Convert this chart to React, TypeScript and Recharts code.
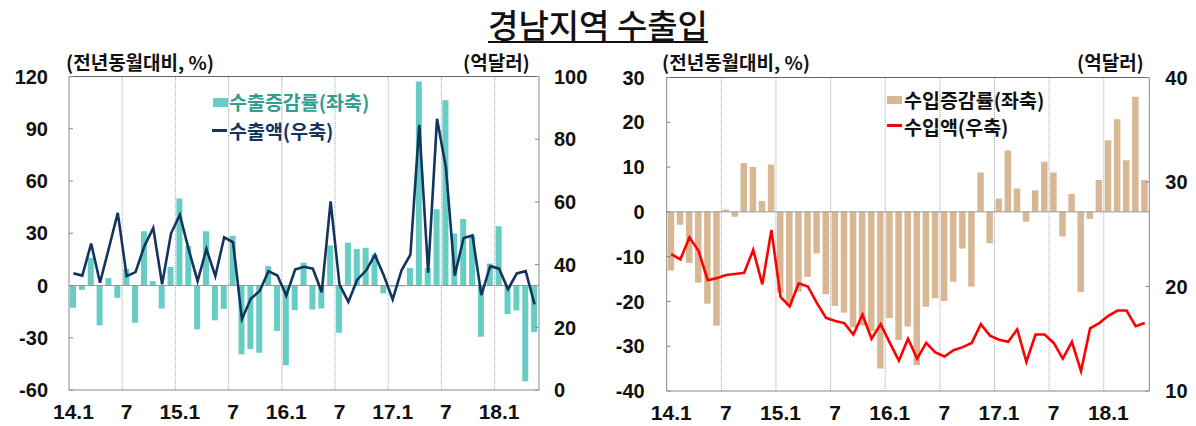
import React from "react";
import { ComposedChart, Bar, Line, XAxis, YAxis, ReferenceLine } from "recharts";

const months = [
  "14.1", "14.2", "14.3", "14.4", "14.5", "14.6", "14.7", "14.8", "14.9", "14.10", "14.11", "14.12",
  "15.1", "15.2", "15.3", "15.4", "15.5", "15.6", "15.7", "15.8", "15.9", "15.10", "15.11", "15.12",
  "16.1", "16.2", "16.3", "16.4", "16.5", "16.6", "16.7", "16.8", "16.9", "16.10", "16.11", "16.12",
  "17.1", "17.2", "17.3", "17.4", "17.5", "17.6", "17.7", "17.8", "17.9", "17.10", "17.11", "17.12",
  "18.1", "18.2", "18.3", "18.4", "18.5",
];

// 수출증감률 (좌축, %)
const exportRate = [
  -12.8, -2.5, 15.9, -22.9, 4.2, -7.1, 9.6, -21.4, 31.1, 2.5, -13.2, 10.7,
  49.9, 22.7, -25.2, 31.1, -20, -13.4, 28.6, -39.5, -36.5, -38.6, 11.1, -26.1,
  -45.8, -14.2, 13.1, -13.8, -13.2, 22.9, -27.1, 24.5, 21, 21.7, 17.9, -4.5,
  -0.6, -0.5, 10.1, 117.1, 10, 43.8, 106.3, 29.8, 38.2, 28.7, -29.4, 12.6,
  34, -16.4, -14.3, -55, -26.8,
];

// 수출액 (우축, 억달러)
const exportAmt = [
  37.2, 36.5, 46.7, 34.2, 45.3, 56.5, 36.3, 37.6, 45.9, 51.7, 33.7, 49.9,
  55.9, 44.8, 34.7, 45, 36.3, 48.7, 47.1, 22.6, 29.1, 31.6, 37.9, 36.5,
  30.1, 38.4, 39.3, 38.7, 31.2, 60.2, 33.7, 28.1, 35.2, 38.1, 43.1, 36.5,
  28.9, 38.2, 43.2, 84.6, 37.4, 86.5, 71, 36.5, 48.5, 49.3, 30.3, 39.5,
  38.7, 32.1, 37.2, 37.9, 27.3,
];

// 수입증감률 (좌축, %)
const importRate = [
  -13.1, -2.9, -11.4, -15.8, -20.5, -25.4, 0.5, -1.1, 10.9, 10, 2.4, 10.6,
  -18, -21, -17.8, -14.5, -9.3, -18.4, -21, -22.5, -25.8, -25.4, -26.6, -35,
  -23.7, -28.6, -25.6, -34.2, -21.2, -19.3, -19.9, -15.6, -8.2, -16.7, 8.8, -7,
  3, 13.7, 5.2, -2.2, 4.8, 11.2, 8.8, -5.5, 4, -17.9, -1.6, 7.1,
  16, 20.7, 11.5, 25.7, 7.1,
];

// 수입액 (우축, 억달러)
const importAmt = [
  23.1, 22.6, 24.7, 23.4, 20.6, 20.8, 21.1, 21.2, 21.3, 23.5, 20.2, 25.4,
  19, 18.1, 20.3, 20, 18.4, 17, 16.7, 16.5, 15.4, 17.3, 15, 16.4,
  14.6, 12.9, 15, 13.1, 14.6, 13.7, 13.3, 13.9, 14.2, 14.6, 16.4, 15.3,
  14.9, 14.7, 15.9, 12.8, 15.4, 15.4, 14.6, 13.1, 14.7, 11.9, 16, 16.5,
  17.2, 17.7, 17.7, 16.2, 16.5,
];

const gridMonths = ["14.7", "15.1", "15.7", "16.1", "16.7", "17.1", "17.7", "18.1"];

const exportTicksL = [-60, -30, 0, 30, 60, 90, 120];
const exportTicksR = [0, 20, 40, 60, 80, 100];
const importTicksL = [-40, -30, -20, -10, 0, 10, 20, 30];
const importTicksR = [10, 20, 30, 40];

const exportData = months.map((m, i) => ({ m, rate: exportRate[i], amt: exportAmt[i] }));
const importData = months.map((m, i) => ({ m, rate: importRate[i], amt: importAmt[i] }));

const numFont = "'Liberation Sans', Arial, sans-serif";
const krFont = "'Noto Sans CJK KR', 'Noto Sans', sans-serif";

const fmtMonth = (v: string) => {
  const [y, mo] = v.split(".");
  return mo === "1" ? `${y}.1` : mo;
};

const YTick = (props: any) => {
  const { x, y, payload, side, gap } = props;
  const axisX = side === "left" ? x + gap : x - gap;
  const inward = side === "left" ? 4 : -4;
  return (
    <g>
      <line x1={axisX} x2={axisX + inward} y1={y} y2={y} stroke="#888" />
      <text
        x={x}
        y={y}
        dy="0.36em"
        textAnchor={side === "left" ? "end" : "start"}
        fontFamily={numFont}
        fontWeight="bold"
        fontSize={20}
        fill="#111"
      >
        {payload.value}
      </text>
    </g>
  );
};

const xTickStyle = { fontSize: 21, fontWeight: "bold", fill: "#111", fontFamily: numFont };

const unitStyle: React.CSSProperties = {
  position: "absolute",
  fontFamily: krFont,
  fontWeight: 700,
  fontSize: 19,
  lineHeight: "24px",
  color: "#111",
  whiteSpace: "nowrap",
};

const legendText: React.CSSProperties = {
  position: "absolute",
  fontFamily: krFont,
  fontWeight: 700,
  fontSize: 19.5,
  lineHeight: "24px",
  whiteSpace: "nowrap",
};

interface PanelProps {
  data: { m: string; rate: number; amt: number }[];
  width: number;
  margin: { top: number; right: number; bottom: number; left: number };
  leftWidth: number;
  rightWidth: number;
  leftDomain: [number, number];
  rightDomain: [number, number];
  leftTicks: number[];
  rightTicks: number[];
  leftGap: number;
  rightGap: number;
  barColor: string;
  barSize: number;
  lineColor: string;
}

const Panel = (p: PanelProps) => (
  <ComposedChart width={p.width} height={426} data={p.data} margin={p.margin}>
    <XAxis
      dataKey="m"
      interval={5}
      tickFormatter={fmtMonth}
      tickLine={false}
      tickSize={0}
      tickMargin={14}
      height={30}
      axisLine={{ stroke: "#888" }}
      tick={xTickStyle}
    />
    <YAxis
      yAxisId="left"
      domain={p.leftDomain}
      ticks={p.leftTicks}
      width={p.leftWidth}
      tickSize={0}
      tickMargin={p.leftGap}
      tickLine={false}
      axisLine={{ stroke: "#888" }}
      allowDataOverflow
      tick={(t: any) => <YTick {...t} side="left" gap={p.leftGap} />}
    />
    <YAxis
      yAxisId="right"
      orientation="right"
      domain={p.rightDomain}
      ticks={p.rightTicks}
      width={p.rightWidth}
      tickSize={0}
      tickMargin={p.rightGap}
      tickLine={false}
      axisLine={{ stroke: "#888" }}
      allowDataOverflow
      tick={(t: any) => <YTick {...t} side="right" gap={p.rightGap} />}
    />
    {gridMonths.map((g) => (
      <ReferenceLine
        key={g}
        x={g}
        yAxisId="left"
        position="start"
        stroke="#a8a8a8"
        strokeDasharray="1 1"
      />
    ))}
    <ReferenceLine y={p.leftDomain[1]} yAxisId="left" stroke="#666" />
    <Bar yAxisId="left" dataKey="rate" fill={p.barColor} barSize={p.barSize} isAnimationActive={false} />
    <ReferenceLine y={0} yAxisId="left" stroke="#999" />
    <Line
      yAxisId="right"
      dataKey="amt"
      type="linear"
      stroke={p.lineColor}
      strokeWidth={2.6}
      dot={false}
      isAnimationActive={false}
    />
  </ComposedChart>
);

export default function App() {
  return (
    <div
      style={{
        position: "absolute",
        left: 0,
        top: 0,
        width: 1196,
        height: 426,
        background: "#fff",
        overflow: "hidden",
      }}
    >
      <div
        style={{
          position: "absolute",
          left: 0,
          top: 0,
          width: 1196,
          textAlign: "center",
          fontFamily: krFont,
          fontSize: 33,
          lineHeight: "normal",
          fontWeight: 500,
          color: "#111",
        }}
      >
        <span style={{ textDecoration: "underline", textUnderlineOffset: 3, textDecorationThickness: 2 }}>
          경남지역 수출입
        </span>
      </div>

      <div style={{ position: "absolute", left: 0, top: 0 }}>
        <Panel
          data={exportData}
          width={600}
          margin={{ top: 76.5, right: 1, bottom: 6, left: 0 }}
          leftWidth={69}
          rightWidth={60}
          leftDomain={[-60, 120]}
          rightDomain={[0, 100]}
          leftTicks={exportTicksL}
          rightTicks={exportTicksR}
          leftGap={21}
          rightGap={15}
          barColor="#66cdc4"
          barSize={6}
          lineColor="#12355e"
        />
      </div>

      <div style={{ position: "absolute", left: 600, top: 0 }}>
        <Panel
          data={importData}
          width={596}
          margin={{ top: 77.5, right: 0.7, bottom: 5, left: 0 }}
          leftWidth={66.7}
          rightWidth={46}
          leftDomain={[-40, 30]}
          rightDomain={[10, 40]}
          leftTicks={importTicksL}
          rightTicks={importTicksR}
          leftGap={22}
          rightGap={16}
          barColor="#d8b894"
          barSize={6.5}
          lineColor="#ff0000"
        />
      </div>

      <div style={{ ...unitStyle, left: 66, top: 50 }}>(전년동월대비, %)</div>
      <div style={{ ...unitStyle, left: 463, top: 50 }}>(억달러)</div>
      <div style={{ ...unitStyle, left: 662, top: 50 }}>(전년동월대비, %)</div>
      <div style={{ ...unitStyle, left: 1077, top: 50 }}>(억달러)</div>

      <div style={{ position: "absolute", left: 213, top: 97.5, width: 15, height: 9, background: "#66cdc4" }} />
      <div style={{ ...legendText, left: 229, top: 90, color: "#2f9e8f" }}>수출증감률(좌축)</div>
      <div style={{ position: "absolute", left: 212, top: 129, width: 15, height: 3, background: "#12355e" }} />
      <div style={{ ...legendText, left: 229, top: 118.5, color: "#12355e" }}>수출액(우축)</div>

      <div style={{ position: "absolute", left: 887, top: 96, width: 15, height: 8, background: "#d8b894" }} />
      <div style={{ ...legendText, left: 904, top: 88, color: "#111" }}>수입증감률(좌축)</div>
      <div style={{ position: "absolute", left: 887, top: 124, width: 15, height: 3, background: "#ff0000" }} />
      <div style={{ ...legendText, left: 904, top: 115, color: "#111" }}>수입액(우축)</div>
    </div>
  );
}
